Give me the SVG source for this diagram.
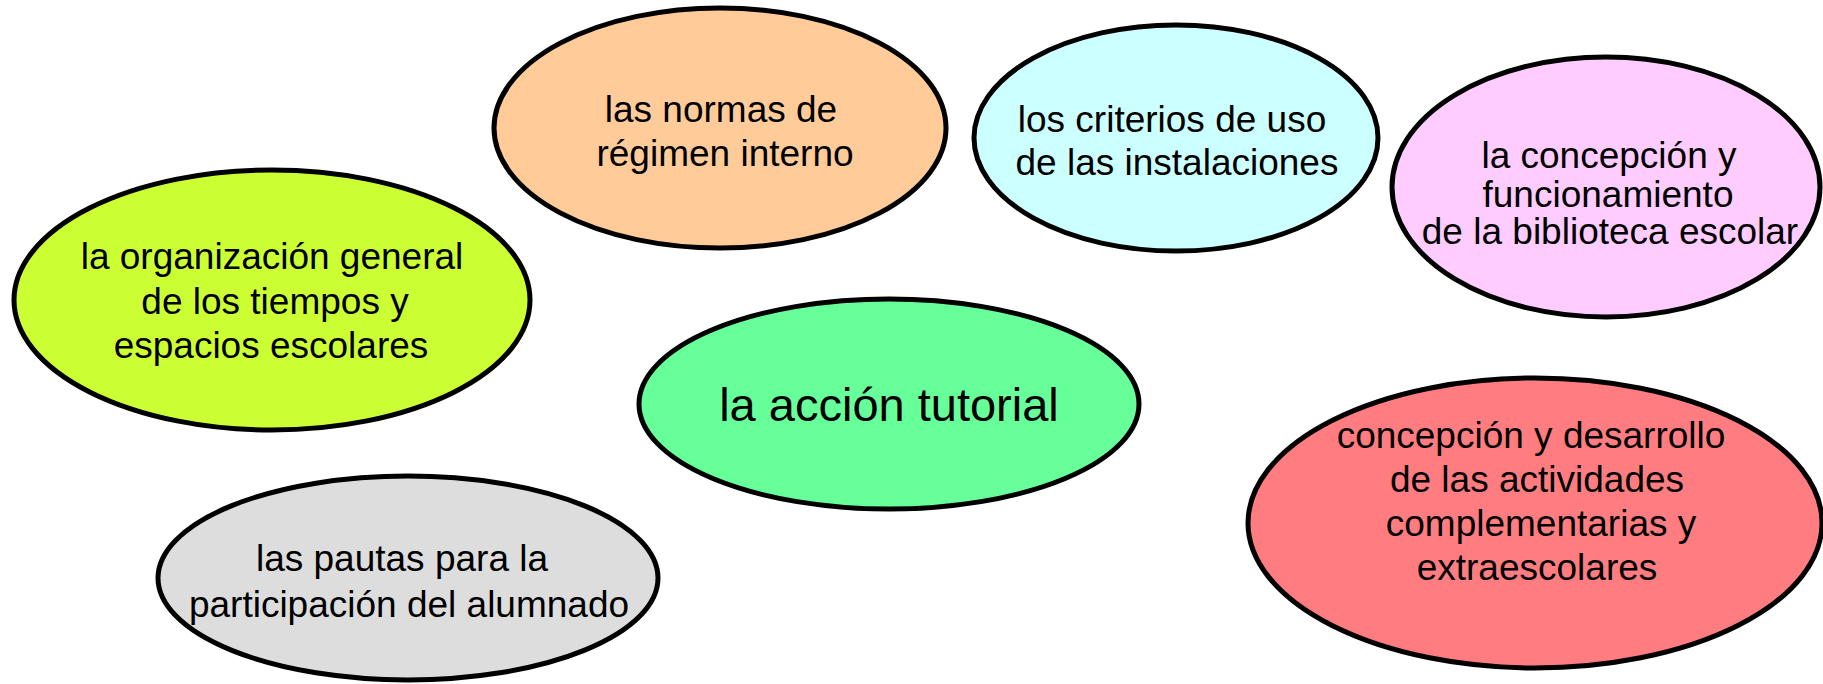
<svg xmlns="http://www.w3.org/2000/svg" width="1823" height="684" viewBox="0 0 1823 684">
<style>
.n ellipse{stroke:#000;stroke-width:5}
text{font-family:"Liberation Sans",Arial,sans-serif;font-size:37px;fill:#000;text-anchor:middle}
.big{font-size:47px}
</style>
<rect width="1823" height="684" fill="#fff"/>
<g id="connectors"></g>
<g id="n-normas" class="n">
<ellipse cx="720" cy="128" rx="226" ry="120" fill="#FFCC99"/>
<text x="721" y="122">las normas de</text>
<text x="725" y="166">régimen interno</text>
</g>
<g id="n-criterios" class="n">
<ellipse cx="1176" cy="138" rx="202" ry="113" fill="#CCFFFF"/>
<text x="1172" y="132">los criterios de uso</text>
<text x="1177" y="175">de las instalaciones</text>
</g>
<g id="n-biblioteca" class="n">
<ellipse cx="1606" cy="187" rx="214" ry="130" fill="#FFCCFF"/>
<text x="1609" y="168">la concepción y</text>
<text x="1608" y="207">funcionamiento</text>
<text x="1610" y="244">de la biblioteca escolar</text>
</g>
<g id="n-organizacion" class="n">
<ellipse cx="272" cy="300" rx="258" ry="130" fill="#CCFF33"/>
<text x="272" y="269">la organización general</text>
<text x="275" y="314">de los tiempos y</text>
<text x="271" y="358">espacios escolares</text>
</g>
<g id="n-accion" class="n">
<ellipse cx="889" cy="404" rx="250" ry="105" fill="#66FF99"/>
<text class="big" x="889" y="421">la acción tutorial</text>
</g>
<g id="n-actividades" class="n">
<ellipse cx="1535" cy="523" rx="287" ry="145" fill="#FF7C80"/>
<text x="1531" y="448">concepción y desarrollo</text>
<text x="1537" y="492">de las actividades</text>
<text x="1541" y="536">complementarias y</text>
<text x="1537" y="580">extraescolares</text>
</g>
<g id="n-pautas" class="n">
<ellipse cx="408" cy="578" rx="250" ry="102" fill="#DDDDDD"/>
<text x="402" y="571">las pautas para la</text>
<text x="409" y="617">participación del alumnado</text>
</g>
</svg>
